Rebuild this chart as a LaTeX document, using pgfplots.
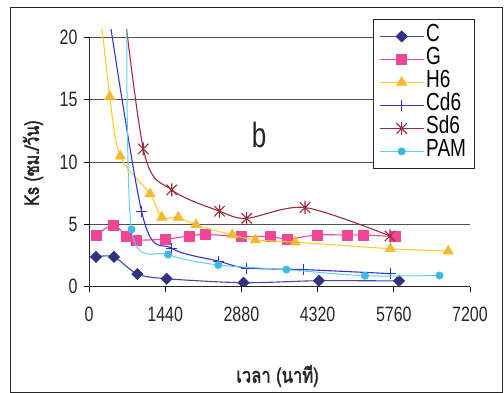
\documentclass[border=0pt]{standalone}
\usepackage{pgfplots}
\pgfplotsset{compat=1.18}
\usepackage{pgfplotstable}
\usepackage{graphicx}
\usepackage{fontspec}
\setmainfont{Liberation Sans}
\newfontfamily\thaifont[Script=Thai,FakeBold=2.5]{Loma}
\definecolor{cCline}{RGB}{70,70,170}
\definecolor{cCmark}{RGB}{50,50,130}
\definecolor{cG}{RGB}{240,70,150}
\definecolor{cHline}{RGB}{255,205,40}
\definecolor{cHmark}{RGB}{245,185,50}
\definecolor{cCd}{RGB}{50,50,210}
\definecolor{cSd}{RGB}{155,45,55}
\definecolor{cPline}{RGB}{90,210,245}
\definecolor{cPmark}{RGB}{60,185,225}
\definecolor{gridc}{RGB}{75,85,85}
\newcommand\tall[1]{\scalebox{1}[1.3]{#1}}
\pgfdeclareplotmark{xstar}{%
  \pgfpathmoveto{\pgfqpoint{-.8\pgfplotmarksize}{-.8\pgfplotmarksize}}%
  \pgfpathlineto{\pgfqpoint{.8\pgfplotmarksize}{.8\pgfplotmarksize}}%
  \pgfpathmoveto{\pgfqpoint{-.8\pgfplotmarksize}{.8\pgfplotmarksize}}%
  \pgfpathlineto{\pgfqpoint{.8\pgfplotmarksize}{-.8\pgfplotmarksize}}%
  \pgfpathmoveto{\pgfqpoint{0pt}{-\pgfplotmarksize}}%
  \pgfpathlineto{\pgfqpoint{0pt}{\pgfplotmarksize}}%
  \pgfusepathqstroke}
\pgfplotstableread{
x y
132 2.39
472 2.39
913 1.02
1468 0.64
2920 0.32
4346 0.48
5858 0.46
}\tC
\pgfplotstableread{
x y
132 4.10
459 4.96
712 4.02
901 3.75
1436 3.81
1890 4.07
2200 4.19
2886 4.02
3420 4.02
3747 3.83
4314 4.15
4881 4.15
5183 4.15
5782 4.02
}\tG
\pgfplotstableread{
x y
120 26
391 15.26
591 10.47
1153 7.45
1374 5.57
1688 5.57
2022 4.96
2708 4.15
3145 3.75
3900 3.57
5695 3.05
6790 2.85
}\tH
\pgfplotstableread{
x y
120 29
996 6.0
1568 3.08
2450 2.05
2975 1.50
4063 1.37
5690 1.05
}\tCd
\pgfplotstableread{
x y
480 29
1026 11.06
1563 7.77
2466 6.06
2980 5.49
4082 6.35
5688 4.07
}\tSd
\pgfplotstableread{
x y
715 24
803 4.59
1493 2.59
2443 1.74
3730 1.37
5215 0.88
6625 0.90
}\tP
\begin{document}
\begin{tikzpicture}[x=1pt,y=1pt]
\path[use as bounding box] (0,0) rectangle (504,393);
\draw[black!85, line width=0.9pt] (10,1) rectangle (502,386);
\begin{axis}[
  scale only axis, width=381pt, height=256.7pt,
  at={(89pt,106.3pt)}, anchor=south west,
  xmin=0, xmax=7200, ymin=0, ymax=20.6,
  clip marker paths=true,
  axis line style={draw=none},
  xtick={0,1440,2880,4320,5760,7200},
  xticklabels={\tall{0},\tall{1440},\tall{2880},\tall{4320},\tall{5760},\tall{7200}},
  ytick={0,5,10,15,20},
  yticklabels={\tall{0},\tall{5},\tall{10},\tall{15},\tall{20}},
  xtick pos=lower, ytick pos=left,
  tick align=outside, major tick length=5pt,
  tick style={black, line width=0.8pt},
  ticklabel style={font=\fontsize{16}{16}\selectfont, text=black!85},
  xticklabel style={yshift=-12pt},
  yticklabel style={xshift=-3pt},
  ymajorgrids, grid style={gridc, line width=0.9pt},
  every axis plot/.append style={smooth, line width=1.1pt},
  legend image code/.code={\draw[mark repeat=2,mark phase=2] plot coordinates {(0pt,0pt) (22pt,0pt) (44pt,0pt)};},
  legend style={at={(axis description cs:0.7446,1.0429)}, anchor=north west,
    draw=black!85, line width=0.9pt, fill=white,
    font=\fontsize{19}{19}\selectfont, inner xsep=6pt, inner ysep=5.5pt,
    row sep=0pt,
    nodes={inner xsep=2pt, inner ysep=0pt, text height=17pt, text depth=6pt}},
  legend cell align=left,
]
\addplot[color=cCline, mark=square*, mark size=4pt, mark options={rotate=45, fill=cCmark, draw=cCmark, line width=0.5pt}] table {\tC};
\addlegendentry{\tall{C}}
\addplot[color=cG, mark=square*, mark size=5pt, mark options={fill=cG, draw=cG, line width=0.5pt}] table {\tG};
\addlegendentry{\tall{G}}
\addplot[color=cHline, mark=triangle*, mark size=6pt, mark options={fill=cHmark, draw=cHmark, line width=0.5pt}] table {\tH};
\addlegendentry{\tall{H6}}
\addplot[color=cCd, mark=+, mark size=5.5pt, mark options={line width=1pt}] table {\tCd};
\addlegendentry{\tall{Cd6}}
\addplot[color=cSd, mark=xstar, mark size=6.5pt, mark options={line width=1.1pt}] table {\tSd};
\addlegendentry{\tall{Sd6}}
\addplot[color=cPline, line width=1pt, mark=*, mark size=3.7pt, mark options={fill=cPmark, draw=cPmark, line width=0.5pt}] table {\tP};
\addlegendentry{\tall{PAM}}
\draw[black!85, line width=0.9pt] (axis cs:0,0) -- (axis cs:0,20);
\draw[black!85, line width=0.9pt] (axis cs:0,0) -- (axis cs:7200,0);
\draw[black!50, line width=0.8pt] (axis cs:7200,0) -- (axis cs:7200,20);
\node[font=\fontsize{26}{26}\selectfont, text=black!85] at (axis cs:3213,12.2) {\scalebox{1}[1.35]{b}};
\end{axis}
\node[rotate=90, font=\thaifont\fontsize{16}{16}\selectfont, text=black!85] at (33,230) {\scalebox{1}[1.25]{Ks (ซม./วัน)}};
\node[font=\thaifont\fontsize{16.5}{16.5}\selectfont, text=black!85] at (277.5,17) {\scalebox{1}[1.25]{เวลา (นาที)}};
\end{tikzpicture}
\end{document}
